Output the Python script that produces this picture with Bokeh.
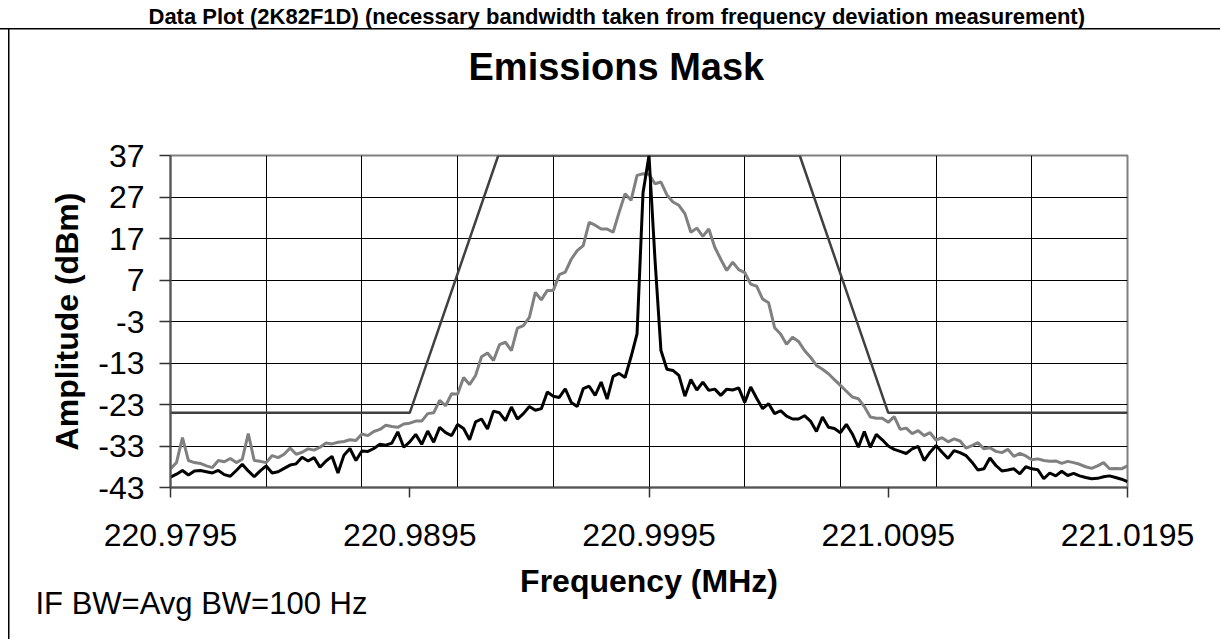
from bokeh.plotting import figure
from bokeh.models import Range1d, FixedTicker, Title, PrintfTickFormatter
from bokeh.embed import file_html
from bokeh.resources import INLINE

# sweep grid of the analyser trace (MHz)
f_start = 220.9795
f_step = 0.00025

# modulated spectrum (grey trace), dBm
amp_gray = [
    -38.5, -37, -31, -36.5, -37, -37.2, -37.8, -38.2, -36.5, -36.8,
    -36, -37, -36.2, -30, -36.5, -36.7, -37, -35.3, -35.8, -35,
    -33.5, -35, -34.5, -33.7, -34, -33.3, -32.3, -32.5, -32.1, -31.9,
    -31.5, -31.7, -30.1, -30.5, -29.5, -29, -28, -28.3, -28.5, -27.7,
    -27.5, -27, -27, -25.2, -25, -22, -23.3, -20.4, -20.5, -16.5,
    -18.2, -16, -11.5, -10.6, -12.4, -8.6, -8, -10, -4.6, -4,
    -2, 4, 2.2, 4.5, 4.5, 8.3, 8.9, 12, 14.1, 15.3,
    20.9, 20.2, 19.3, 19.3, 18.5, 23.3, 27.8, 26.2, 32.2, 32.6,
    32.5, 30.2, 30.6, 27.5, 25.8, 25, 23, 18.5, 19.5, 17.5,
    19.3, 14.9, 12, 9.3, 11.3, 9.5, 8.8, 6, 5.5, 2.4,
    1.5, -4.5, -6, -8.5, -6.8, -7.8, -10, -11.6, -13.6, -14.5,
    -15.6, -17, -18.4, -19.8, -21.2, -21.6, -23.5, -26, -26.3, -26.3,
    -27.3, -25.9, -29, -28.7, -30, -29.3, -30.5, -29.8, -31.6, -31,
    -32, -31.3, -31.8, -33.5, -32.9, -32.2, -33.7, -33.4, -34.3, -34.6,
    -33.8, -35.5, -34.8, -35.4, -36.3, -36.1, -36.5, -36.7, -36.6, -37.2,
    -36.7, -37, -37.4, -38, -38.4, -37.8, -37, -38.5, -38.4, -38.5, -37.8,
]

# unmodulated carrier (black trace), dBm
amp_black = [
    -40.5, -39.8, -38.9, -40, -39, -38.9, -39.2, -39.5, -38.9, -39.9,
    -40.3, -38.9, -37.4, -39, -40.4, -39, -37.8, -39.5, -39.2, -38.4,
    -37.6, -37.3, -35.7, -36.6, -35.8, -38.1, -36.6, -35.5, -39.5, -35.2,
    -33.6, -36.5, -34.2, -34.3, -33.6, -32.6, -32.8, -32.3, -29.6, -33.3,
    -32, -30.2, -32.6, -29.4, -32.1, -28.5, -29.8, -30.5, -27.8, -28.8,
    -31.5, -27.2, -26.5, -28.9, -24.6, -25, -26.9, -23.6, -26.5, -25.2,
    -23.5, -24.4, -24, -20, -21, -21.3, -19.2, -22.5, -23.5, -19.2,
    -18.6, -20.8, -17.6, -21.7, -16.2, -15.5, -16.5, -11.5, -6, 28,
    37, 12, -10, -14.5, -14.8, -16, -21, -17, -19.5, -17.6,
    -19.6, -19.3, -20.8, -19.3, -19.5, -19, -22.5, -18.8, -21.5, -24,
    -22.8, -25.2, -24.5, -25.8, -26.5, -26.5, -25.7, -27, -29.5, -26,
    -28.5, -28.8, -29.8, -27.8, -30.1, -33.3, -29.5, -33.3, -30.2, -31.5,
    -33, -33.8, -34.3, -34.8, -33.7, -33.1, -36.5, -34.5, -32.9, -34.5,
    -36, -34.1, -34.6, -35.3, -36.9, -38.8, -38.5, -35.9, -37.7, -39,
    -38.8, -38.5, -39.7, -38, -38.5, -38.7, -40.9, -39.5, -40.2, -39.1,
    -40.1, -39.6, -40.2, -40.6, -40.9, -40.8, -40.4, -40.2, -40.6, -41, -41.6,
]

# emissions mask
mask_freq = [220.9795, 220.9895, 220.9932, 221.0058, 221.0095, 221.0195]
mask_amp = [-25, -25, 37, 37, -25, -25]

# axes
x_tick_values = [220.9795, 220.9895, 220.9995, 221.0095, 221.0195]
x_grid_values = [220.9795 + 0.004 * k for k in range(11)]
y_tick_values = [-43, -33, -23, -13, -3, 7, 17, 27, 37]

freq = [round(f_start + f_step * i, 6) for i in range(len(amp_gray))]

FONT = "Liberation Sans"

p = figure(
    title=None,
    frame_width=957, frame_height=332,
    x_range=Range1d(220.9795, 221.0195), y_range=Range1d(-43, 37),
    output_backend="svg", toolbar_location=None,
    min_border_left=170, min_border_right=93,
    min_border_top=155, min_border_bottom=152,
    background_fill_color="white", border_fill_color=None,
)
# outer chart border lines (drawn behind the transparent canvas border area)
p.styles = {
    "background": "linear-gradient(#000,#000) 0px 28px / 100% 1.5px no-repeat, "
                  "linear-gradient(#000,#000) 8px 28px / 1.5px 100% no-repeat, #ffffff",
}
p.outline_line_color = "#808080"
p.outline_line_width = 2

# grids
p.xgrid.ticker = FixedTicker(ticks=x_grid_values)
p.ygrid.ticker = FixedTicker(ticks=y_tick_values)
for g in (p.xgrid, p.ygrid):
    g.grid_line_color = "#000000"
    g.grid_line_width = 1
    g.grid_line_alpha = 1

# axes
p.xaxis.ticker = FixedTicker(ticks=x_tick_values)
p.xaxis.formatter = PrintfTickFormatter(format="%.4f")
p.yaxis.ticker = FixedTicker(ticks=y_tick_values)
p.yaxis.formatter = PrintfTickFormatter(format="%d")
for ax in (p.xaxis, p.yaxis):
    ax.axis_line_color = "#555555"
    ax.axis_line_width = 2
    ax.major_tick_line_color = "#333333"
    ax.major_tick_line_width = 1.5
    ax.major_tick_in = 0
    ax.minor_tick_line_color = None
    ax.major_label_text_font = FONT
    ax.major_label_text_font_size = "32px"
    ax.major_label_text_color = "#000000"
    ax.axis_label_text_font = FONT
    ax.axis_label_text_font_size = "32px"
    ax.axis_label_text_font_style = "bold"
    ax.axis_label_text_color = "#000000"
p.xaxis.major_tick_out = 10
p.yaxis.major_tick_out = 11
p.xaxis.major_label_standoff = 26
p.yaxis.major_label_standoff = 15
p.xaxis.axis_label = "Frequency (MHz)"
p.yaxis.axis_label = "Amplitude (dBm)"
p.xaxis.axis_label_standoff = 14
p.yaxis.axis_label_standoff = 10

# data
p.line(mask_freq, mask_amp, line_color="#404040", line_width=2.5)
p.line(freq, amp_gray, line_color="#808080", line_width=3)
p.line(freq, amp_black, line_color="#000000", line_width=3)

# titles (stacked outward from the plot frame)
p.add_layout(Title(text=" ", standoff=41, text_font=FONT, text_font_size="10px"), "above")
p.add_layout(Title(text="Emissions Mask", align="left", offset=298, standoff=28,
                   text_font=FONT, text_font_style="bold", text_font_size="38px",
                   text_color="#000000"), "above")
p.add_layout(Title(text="Data Plot (2K82F1D) (necessary bandwidth taken from frequency deviation measurement)",
                   align="left", offset=-22, standoff=2,
                   text_font=FONT, text_font_style="bold", text_font_size="22px",
                   text_color="#000000"), "above")

# note under the axis
p.add_layout(Title(text="IF BW=Avg BW=100 Hz", align="left", offset=-135, standoff=-38,
                   text_font=FONT, text_font_style="normal", text_font_size="31px",
                   text_color="#000000"), "below")

open("out.html", "w").write(file_html(p, INLINE))
